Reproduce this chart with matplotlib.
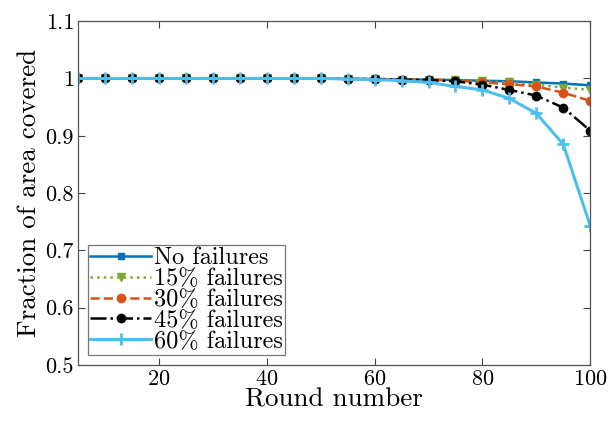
import matplotlib
matplotlib.use("Agg")
import matplotlib.pyplot as plt
from matplotlib.ticker import FuncFormatter

plt.rcParams['font.family'] = 'serif'
plt.rcParams['font.serif'] = ['cmr10']
plt.rcParams['mathtext.fontset'] = 'cm'
plt.rcParams['axes.formatter.use_mathtext'] = True

rounds = list(range(5, 101, 5))

no_fail = [1.0, 1.0, 1.0, 1.0, 1.0, 1.0, 1.0, 1.0, 1.0, 1.0, 0.999, 0.999,
           0.998, 0.998, 0.997, 0.996, 0.995, 0.993, 0.991, 0.988]
fail_15 = [1.0, 1.0, 1.0, 1.0, 1.0, 1.0, 1.0, 1.0, 1.0, 1.0, 0.999, 0.999,
           0.998, 0.998, 0.997, 0.995, 0.993, 0.989, 0.984, 0.980]
fail_30 = [1.0, 1.0, 1.0, 1.0, 1.0, 1.0, 1.0, 1.0, 1.0, 1.0, 0.999, 0.999,
           0.998, 0.998, 0.996, 0.993, 0.990, 0.986, 0.975, 0.961]
fail_45 = [1.0, 1.0, 1.0, 1.0, 1.0, 1.0, 1.0, 1.0, 1.0, 1.0, 0.999, 0.999,
           0.998, 0.997, 0.995, 0.989, 0.980, 0.970, 0.949, 0.909]
fail_60 = [1.0, 1.0, 1.0, 1.0, 1.0, 1.0, 1.0, 1.0, 1.0, 1.0, 0.999, 0.998,
           0.996, 0.993, 0.986, 0.980, 0.965, 0.939, 0.885, 0.743]

labels = ['No failures', '15% failures', '30% failures', '45% failures', '60% failures']

fig = plt.figure(figsize=(6.11, 4.22), dpi=100)
ax = fig.add_axes([0.128, 0.135, 0.838, 0.815])

ax.plot(rounds, no_fail, color='#0072BD', ls='-', lw=1.8, marker='s', ms=5, label=labels[0])
ax.plot(rounds, fail_15, color='#77AC30', ls=':', lw=1.8, marker='v', ms=6, label=labels[1])
ax.plot(rounds, fail_30, color='#D95319', ls='--', lw=1.8, marker='o', ms=6, label=labels[2])
ax.plot(rounds, fail_45, color='black', ls='-.', lw=1.8, marker='o', ms=6, label=labels[3])
ax.plot(rounds, fail_60, color='#4DBEEE', ls='-', lw=2.2, marker='+', ms=9, mew=2, label=labels[4])

ax.set_xlim(5, 100)
ax.set_ylim(0.5, 1.1)
ax.set_xticks([20, 40, 60, 80, 100])
ax.set_yticks([0.5, 0.6, 0.7, 0.8, 0.9, 1.0, 1.1])
ax.yaxis.set_major_formatter(FuncFormatter(lambda v, p: f'{v:g}'))
ax.tick_params(direction='in', top=True, right=True, labelsize=16, color='#444444',
               length=5, pad=3)
for s in ax.spines.values():
    s.set_color('#555555')
    s.set_linewidth(0.9)

ax.set_xlabel('Round number', fontsize=19.5, labelpad=-1)
ax.set_ylabel('Fraction of area covered', fontsize=19.5, labelpad=3)

leg = ax.legend(loc='lower left', fontsize=17.5, frameon=True, fancybox=False,
                edgecolor='#555555', borderpad=0.1, labelspacing=-0.05,
                handlelength=2.5, handletextpad=0.1, borderaxespad=0.4)
leg.get_frame().set_linewidth(0.9)

fig.savefig('out.png', dpi=100)
